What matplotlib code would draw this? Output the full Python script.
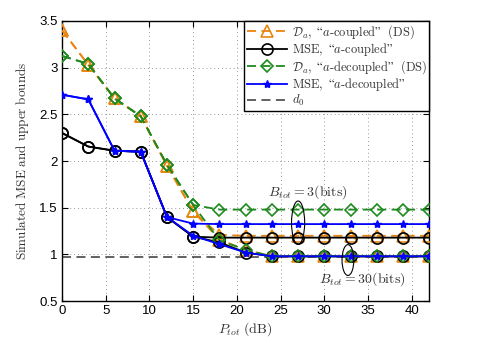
import matplotlib
matplotlib.use("Agg")
import matplotlib.pyplot as plt
from matplotlib.patches import Ellipse

plt.rcParams['mathtext.fontset'] = 'cm'
plt.rcParams['font.family'] = ['DejaVu Serif']

# data
p_tot = [0, 3, 6, 9, 12, 15, 18, 21, 24, 27, 30, 33, 36, 39, 42]
da_coupled_b3 = [3.40, 3.03, 2.67, 2.48, 1.95, 1.46, 1.21, 1.20, 1.20, 1.20, 1.20, 1.20, 1.20, 1.20, 1.20]
da_coupled_b30 = [3.40, 3.03, 2.67, 2.48, 1.95, 1.46, 1.16, 1.05, 0.98, 0.98, 0.98, 0.98, 0.98, 0.98, 0.98]
mse_coupled_b3 = [2.30, 2.155, 2.11, 2.10, 1.40, 1.19, 1.18, 1.18, 1.18, 1.18, 1.18, 1.18, 1.18, 1.18, 1.18]
mse_coupled_b30 = [2.30, 2.155, 2.11, 2.10, 1.40, 1.19, 1.13, 1.02, 0.98, 0.98, 0.98, 0.98, 0.98, 0.98, 0.98]
da_decoupled_b3 = [3.125, 3.04, 2.67, 2.48, 1.96, 1.53, 1.48, 1.48, 1.48, 1.48, 1.48, 1.48, 1.48, 1.48, 1.48]
da_decoupled_b30 = [3.125, 3.04, 2.67, 2.48, 1.96, 1.53, 1.15, 1.05, 0.98, 0.98, 0.98, 0.98, 0.98, 0.98, 0.98]
mse_decoupled_b3 = [2.71, 2.66, 2.11, 2.10, 1.40, 1.33, 1.325, 1.325, 1.325, 1.325, 1.325, 1.325, 1.325, 1.325, 1.325]
mse_decoupled_b30 = [2.71, 2.66, 2.11, 2.10, 1.40, 1.20, 1.11, 1.02, 0.98, 0.98, 0.98, 0.98, 0.98, 0.98, 0.98]
d0 = 0.975

labels = [r'$\mathcal{D}_a\mathrm{,\ “}a\mathrm{\text{-}coupled”\ \ (DS)}$',
          r'$\mathrm{MSE,\ “}a\mathrm{\text{-}coupled”}$',
          r'$\mathcal{D}_a\mathrm{,\ “}a\mathrm{\text{-}decoupled”\ \ (DS)}$',
          r'$\mathrm{MSE,\ “}a\mathrm{\text{-}decoupled”}$',
          r'$d_0$']

orange = '#E8860F'
green = '#1F8A1F'
blue = '#0000FF'

fig = plt.figure(figsize=(4.85, 3.43), dpi=100)
ax = fig.add_axes([0.128, 0.122, 0.757, 0.817])

lw = 1.3
h1, = ax.plot(p_tot, da_coupled_b3, '--', color=orange, lw=lw, marker='^', ms=9, mfc='none', mew=1.2, dashes=(5, 3), zorder=3)
ax.plot(p_tot, da_coupled_b30, '--', color=orange, lw=lw, marker='^', ms=9, mfc='none', mew=1.2, dashes=(5, 3), zorder=3)
h2, = ax.plot(p_tot, mse_coupled_b3, '-', color='black', lw=lw, marker='o', ms=8, mfc='none', mew=1.2, zorder=4)
ax.plot(p_tot, mse_coupled_b30, '-', color='black', lw=lw, marker='o', ms=8, mfc='none', mew=1.2, zorder=4)
h3, = ax.plot(p_tot, da_decoupled_b3, '--', color=green, lw=lw, marker='D', ms=6.5, mfc='none', mew=1.2, dashes=(5, 3), zorder=5)
ax.plot(p_tot, da_decoupled_b30, '--', color=green, lw=lw, marker='D', ms=6.5, mfc='none', mew=1.2, dashes=(5, 3), zorder=5)
h4, = ax.plot(p_tot, mse_decoupled_b3, '-', color=blue, lw=lw, marker='*', ms=6, mew=1, zorder=6)
ax.plot(p_tot, mse_decoupled_b30, '-', color=blue, lw=lw, marker='*', ms=6, mew=1, zorder=6)
h5 = ax.axhline(d0, color='#555555', ls='--', lw=1.3, dashes=(5, 3), zorder=2)

ax.add_patch(Ellipse((27, 1.34), 1.5, 0.465, fill=False, ec='black', lw=0.8, zorder=7))
ax.add_patch(Ellipse((32.7, 0.94), 1.35, 0.33, fill=False, ec='black', lw=0.8, zorder=7))
ax.text(28.1, 1.67, r'$B_{tot} = 3\mathrm{(bits)}$', ha='center', va='center', fontsize=10, color='#333333')
ax.text(34.3, 0.74, r'$B_{tot} = 30\mathrm{(bits)}$', ha='center', va='center', fontsize=10, color='#333333')

ax.set_xlim(0, 42)
ax.set_ylim(0.5, 3.5)
ax.set_xticks(range(0, 41, 5))
ax.set_yticks([0.5, 1, 1.5, 2, 2.5, 3, 3.5])
ax.set_yticklabels(['0.5', '1', '1.5', '2', '2.5', '3', '3.5'])
for lab in ax.get_xticklabels() + ax.get_yticklabels():
    lab.set_family('Liberation Sans')
    lab.set_fontsize(9.5)
ax.tick_params(direction='in', top=True, right=True, length=4, width=0.8, pad=3)
ax.grid(True, ls=(0, (1, 3)), color='#999999', lw=0.7)
for s in ax.spines.values():
    s.set_linewidth(1.0)

ax.set_xlabel(r'$P_{tot}\ \mathrm{(dB)}$', fontsize=10, color='#333333', labelpad=2)
ax.set_ylabel(r'$\mathrm{Simulated\ MSE\ and\ upper\ bounds}$', fontsize=9.5, color='#333333', labelpad=6)

leg = ax.legend([h1, h2, h3, h4, h5], labels, loc='upper right', fontsize=9, handlelength=3.2,
                fancybox=False, framealpha=1, edgecolor='black', borderaxespad=0,
                labelspacing=0.0, handletextpad=0.4, borderpad=0.2)
leg.get_frame().set_linewidth(1.0)
for t in leg.get_texts():
    t.set_color('#333333')

fig.savefig('out.png', dpi=100)
